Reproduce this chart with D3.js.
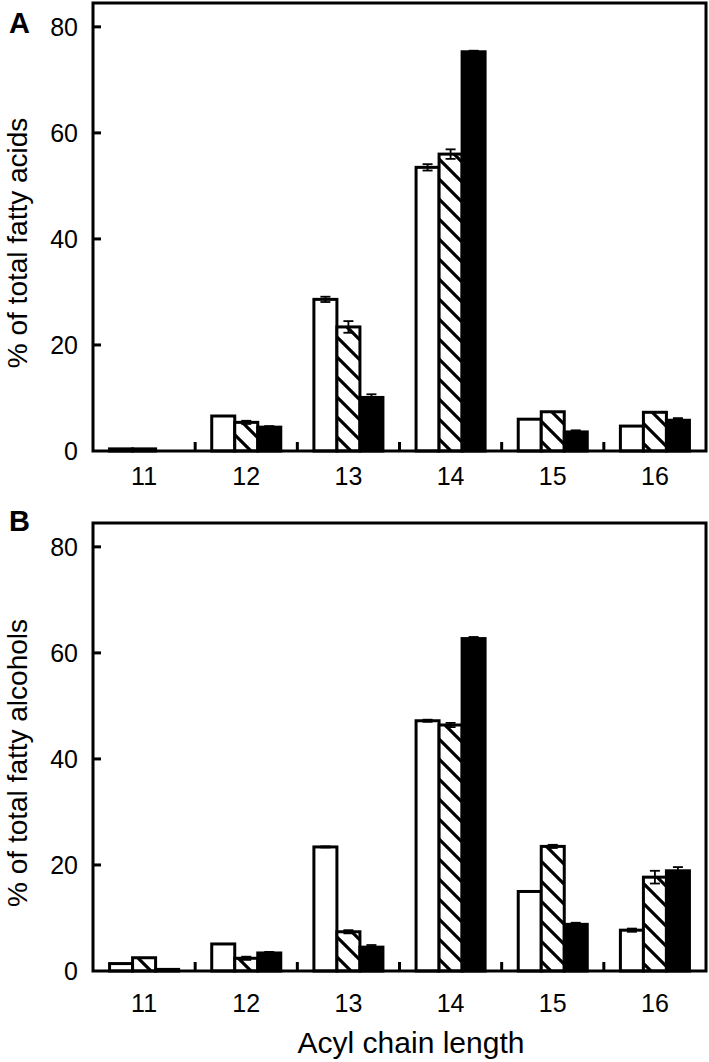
<!DOCTYPE html>
<html>
<head>
<meta charset="utf-8">
<script src="https://cdn.jsdelivr.net/npm/d3@7"></script>
<style>
html,body{margin:0;padding:0;background:#fff;}
svg{display:block;font-family:"Liberation Sans",Arial,Helvetica,sans-serif;}
</style>
</head>
<body>
<svg id="chart" width="709" height="1062"></svg>
<script>
// ---- data ----
const categories = ["11", "12", "13", "14", "15", "16"];
const yTicks = [0, 20, 40, 60, 80];

// Panel A: % of total fatty acids
const acidsWhite     = [0.4, 6.6, 28.6, 53.5, 6.0, 4.7];
const acidsWhiteErr  = [0, 0, 0.5, 0.6, 0, 0];
const acidsHatch     = [0.4, 5.4, 23.4, 56.0, 7.4, 7.3];
const acidsHatchErr  = [0, 0.3, 1.1, 0.9, 0, 0];
const acidsBlack     = [0, 4.5, 10.1, 75.3, 3.6, 5.8];
const acidsBlackErr  = [0, 0.2, 0.6, 0.2, 0.3, 0.4];

// Panel B: % of total fatty alcohols
const alcWhite     = [1.4, 5.1, 23.4, 47.2, 15.0, 7.7];
const alcWhiteErr  = [0, 0, 0.1, 0.2, 0, 0.3];
const alcHatch     = [2.5, 2.4, 7.4, 46.4, 23.5, 17.7];
const alcHatchErr  = [0, 0.3, 0.3, 0.4, 0.3, 1.2];
const alcBlack     = [0.3, 3.4, 4.5, 62.7, 8.8, 18.9];
const alcBlackErr  = [0, 0.2, 0.4, 0.3, 0.3, 0.7];

const seriesKeys = ["white", "hatch", "black"];

const svg = d3.select("#chart");

// hatch pattern
const defs = svg.append("defs");
const pat = defs.append("pattern")
  .attr("id", "hatch")
  .attr("patternUnits", "userSpaceOnUse")
  .attr("width", 20).attr("height", 20);
pat.append("rect").attr("width", 20).attr("height", 20).attr("fill", "#fff");
pat.append("path")
  .attr("d", "M0,0 L20,20 M-5,15 L5,25 M15,-5 L25,5")
  .attr("stroke", "#000").attr("stroke-width", 3.2);

const left = 93, right = 706;
const x = d3.scaleBand().domain(categories).range([left, right]).paddingInner(0).paddingOuter(0);
const xs = d3.scaleBand().domain(seriesKeys).range([0, x.bandwidth()]).paddingInner(0).paddingOuter(0.72);

function drawPanel(base, top, letter, letterY, labelOff, title, vals, errs) {
  const y = d3.scaleLinear().domain([0, 84.5]).range([base, top]);
  const g = svg.append("g");
  const fills = {white: "#fff", hatch: "url(#hatch)", black: "#000"};

  seriesKeys.forEach((k, si) => {
    categories.forEach((c, i) => {
      const v = vals[si][i];
      if (v <= 0) return;
      const bx = x(c) + xs(k);
      g.append("rect")
        .attr("x", bx).attr("y", y(v))
        .attr("width", xs.bandwidth()).attr("height", y(0) - y(v))
        .attr("fill", fills[k]).attr("stroke", "#000").attr("stroke-width", 3);
    });
  });
  // error bars
  seriesKeys.forEach((k, si) => {
    categories.forEach((c, i) => {
      const v = vals[si][i], e = errs[si][i];
      if (e <= 0) return;
      const cx = x(c) + xs(k) + xs.bandwidth() / 2;
      g.append("line").attr("x1", cx).attr("x2", cx)
        .attr("y1", y(v + e)).attr("y2", y(v - e))
        .attr("stroke", "#000").attr("stroke-width", 1.8);
      [v + e, v - e].forEach(t => {
        g.append("line").attr("x1", cx - 5).attr("x2", cx + 5)
          .attr("y1", y(t)).attr("y2", y(t))
          .attr("stroke", "#000").attr("stroke-width", 1.8);
      });
    });
  });

  // frame
  g.append("rect").attr("x", left).attr("y", top)
    .attr("width", right - left).attr("height", base - top)
    .attr("fill", "none").attr("stroke", "#000").attr("stroke-width", 3);

  // y ticks (inward) and labels
  yTicks.forEach(t => {
    if (t > 0) {
      g.append("line").attr("x1", left).attr("x2", left + 8)
        .attr("y1", y(t)).attr("y2", y(t))
        .attr("stroke", "#000").attr("stroke-width", 3);
    }
    g.append("text").attr("x", left - 15).attr("y", y(t))
      .attr("dy", "0.36em").attr("text-anchor", "end")
      .attr("font-size", 25).text(t);
  });

  // x ticks between groups (inward)
  categories.slice(1).forEach(c => {
    g.append("line").attr("x1", x(c)).attr("x2", x(c))
      .attr("y1", base).attr("y2", base - 9)
      .attr("stroke", "#000").attr("stroke-width", 3);
  });
  categories.forEach(c => {
    g.append("text").attr("x", x(c) + x.bandwidth() / 2).attr("y", base + labelOff)
      .attr("text-anchor", "middle").attr("font-size", 25).text(c);
  });

  // y title
  g.append("text")
    .attr("transform", `translate(27,${(base + y(80)) / 2 + 4}) rotate(-90)`)
    .attr("text-anchor", "middle").attr("font-size", 28).text(title);

  // panel letter
  g.append("text").attr("x", 9).attr("y", letterY)
    .attr("font-size", 29).attr("font-weight", "bold").text(letter);
}

drawPanel(451, 3, "A", 33, 34, "% of total fatty acids",
  [acidsWhite, acidsHatch, acidsBlack], [acidsWhiteErr, acidsHatchErr, acidsBlackErr]);
drawPanel(971, 523, "B", 531, 41, "% of total fatty alcohols",
  [alcWhite, alcHatch, alcBlack], [alcWhiteErr, alcHatchErr, alcBlackErr]);

svg.append("text").attr("x", 411).attr("y", 1053)
  .attr("text-anchor", "middle").attr("font-size", 30).text("Acyl chain length");
</script>
</body>
</html>
